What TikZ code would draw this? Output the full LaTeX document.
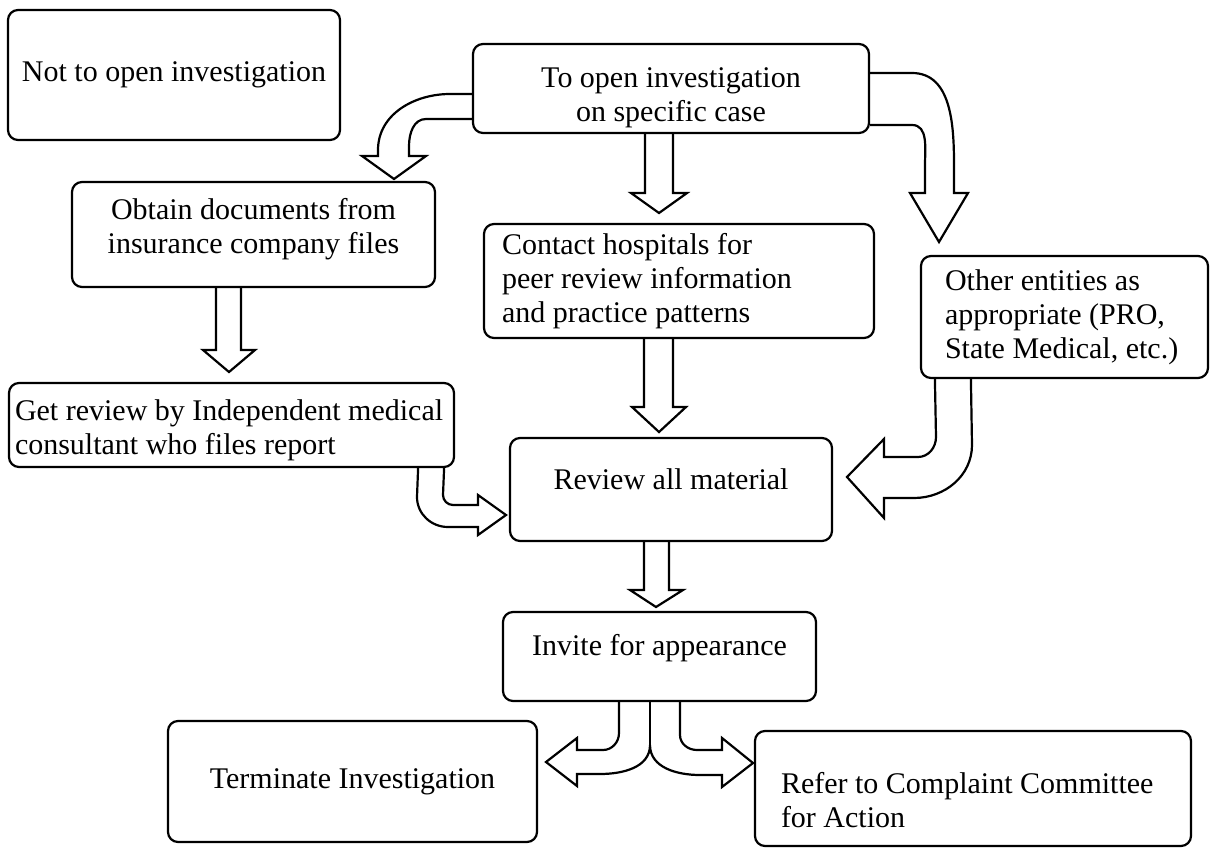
\documentclass[tikz,border=0pt]{standalone}
\usepackage{fontspec}
\setmainfont{Liberation Serif}

\begin{document}
\begin{tikzpicture}[x=1pt,y=-1pt,line width=2.2pt,line join=miter,
                    font=\fontsize{30}{34}\selectfont]
          \tikzstyle{box}=[draw=black,rounded corners=10pt,inner sep=0pt,align=center]
          \tikzstyle{leftbox}=[box,align=flush left]
          \tikzstyle{midbox}=[box,align=flush center]
          \tikzstyle{block}=[draw=black,line width=2.2pt]
          \useasboundingbox (0,0) rectangle (1210,848);

          \node[box,minimum width=332pt,minimum height=130pt] (A) at (174,75) {Not to open investigation};
          \node[midbox,text width=370pt,inner xsep=13pt,minimum height=89pt,text height=38pt] (B) at (671,88.5)
                {To open investigation\\on specific case};
          \node[midbox,text width=337pt,inner xsep=13pt,minimum height=105pt,text depth=52pt] (C) at (253.5,234.5)
                {Obtain documents from\\insurance company files};
          \node[leftbox,text width=354pt,inner xsep=18pt,minimum height=114pt] (D) at (679,281)
                {Contact hospitals for\\peer review information\\and practice patterns};
          \node[leftbox,text width=239pt,inner xsep=24pt,minimum height=122pt] (E) at (1064.5,317)
                {Other entities as\\appropriate (PRO,\\State Medical, etc.)};
          \node[leftbox,text width=433pt,inner xsep=6pt,minimum height=84pt,text height=31pt] (F) at (231.5,425)
                {Get review by Independent medical\\consultant who files report};
          \node[box,minimum width=322pt,minimum height=103pt,text depth=20pt] (G) at (671,489.5) {Review all material};
          \node[box,minimum width=313pt,minimum height=89pt,text depth=24pt]  (H) at (659.5,656.5) {Invite for appearance};
          \node[box,minimum width=369pt,minimum height=121pt] (I) at (352.5,781.5) {Terminate Investigation};
          \node[leftbox,text width=384pt,inner xsep=26pt,minimum height=115pt,text height=44pt] (J) at (973,788.5)
                {Refer to Complaint Committee\\for Action};

          \draw[block] ([yshift=-5.5pt]B.west) -- (450,94) to[out=180,in=90] (378,150) -- (378,156) -- (362,156)
                -- (394,179) -- (426,156) -- (409,156) -- (409,146) to[out=90,in=180] (426,119) -- ([yshift=-30.5pt]B.west);
          \draw[block] ([xshift=-26pt]B.south) -- (645,193) -- (631,193) -- (659,213) -- (687,193) -- (673,193) -- ([xshift=2pt]B.south);
          \draw[block] ([yshift=15.5pt]B.east) -- (912,73) to[out=0,in=90] (954,165) -- (954,193) -- (968,193)
                -- (939,242) -- (910,193) -- (925,193) -- (925,165) to[out=90,in=0] (912,125) -- ([yshift=-36.5pt]B.east);
          \draw[block] ([xshift=-37.5pt]C.south) -- (216,350) -- (203,350) -- (229,372) -- (255,350) -- (241,350) -- ([xshift=-12.5pt]C.south);
          \draw[block] ([xshift=-35pt]D.south) -- (644,407) -- (632,407) -- (659,432) -- (686,407) -- (673,407) -- ([xshift=-6pt]D.south);
          \draw[block] ([xshift=-37pt]F.south east) -- (417,497) to[out=-90,in=180] (448,527) -- (478,527) -- (478,535)
                -- (506,515) -- (478,495) -- (478,505) -- (453,505) to[out=180,in=-90] (443,495) -- ([xshift=-11pt]F.south east);
          \draw[block] ([xshift=15pt]E.south west) -- (936,437) to[out=-90,in=0] (918,457) -- (884,457) -- (884,439)
                -- (847,477) -- (884,518) -- (884,498) -- (914,498) to[out=0,in=-90] (972,445) -- ([xshift=51pt]E.south west);
          \draw[block] ([xshift=-27pt]G.south) -- (644,590) -- (630,590) -- (656,607) -- (683,590) -- (669,590) -- ([xshift=-2pt]G.south);
          \draw[block] ([xshift=-40.5pt]H.south) -- (619,733) to[out=-90,in=0] (603,750) -- (577,750) -- (577,738)
                -- (546,762) -- (577,786) -- (577,774) -- (600,774) to[out=0,in=-90] (650,745)
                to[out=-90,in=180] (700,775) -- (722,775) -- (722,787) -- (753,763) -- (722,738) -- (722,750)
                -- (697,750) to[out=180,in=-90] (680,735) -- ([xshift=20.5pt]H.south);
          \draw[block] ([xshift=-9.5pt]H.south) -- (650,745);
        \end{tikzpicture}
\end{document}
